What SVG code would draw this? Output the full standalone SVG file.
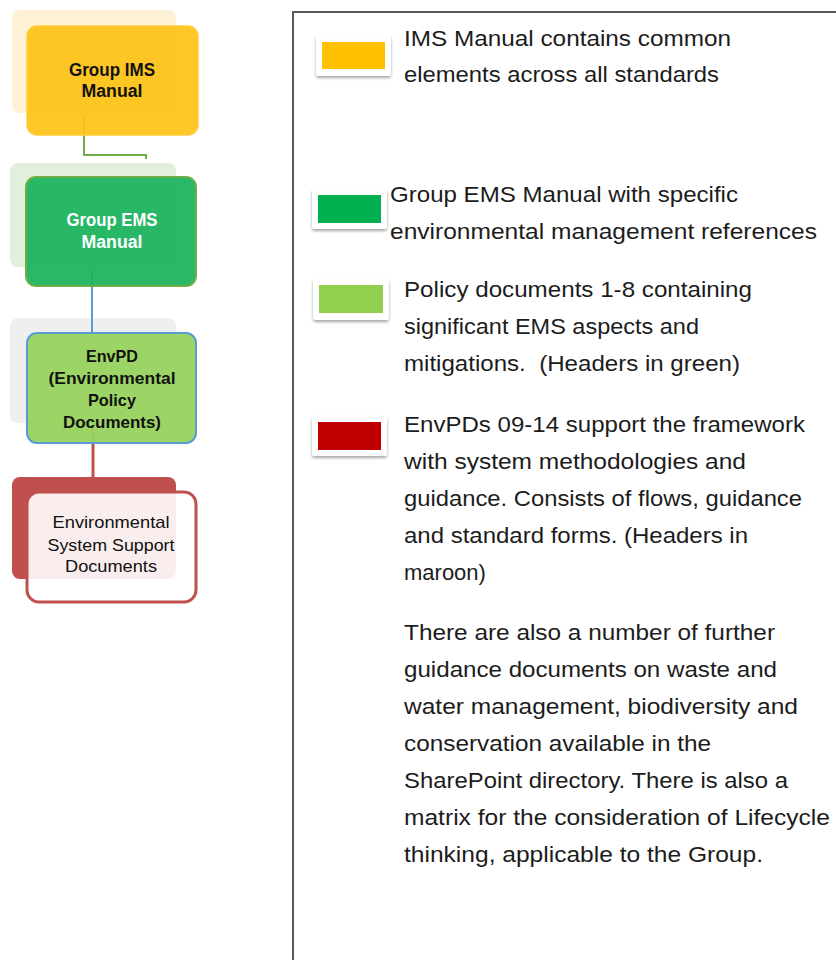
<svg xmlns="http://www.w3.org/2000/svg" width="836" height="960" viewBox="0 0 836 960">
<defs>
<filter id="sh" x="-20%" y="-20%" width="140%" height="160%">
<feDropShadow dx="0" dy="2" stdDeviation="1.5" flood-color="#000" flood-opacity="0.35"/>
</filter>
<style>
.lbl{font-family:"Liberation Sans",Arial,sans-serif;font-size:17px;text-anchor:middle;fill:#111}
.s{font-weight:600;font-size:17.5px}
.b{font-weight:bold;font-size:16.5px}
.leg{font-family:"Liberation Sans",Arial,sans-serif;font-size:22px;fill:#1c1c1c}
.bg{stroke:none}
.conn{fill:none}
.sw{fill:#fff;filter:url(#sh)}
</style>
</defs>
<rect width="836" height="960" fill="#fff"/>

<g id="backgrounds">
<rect class="bg" x="12" y="10" width="164" height="103" rx="8" fill="#FEF1D6"/>
<rect class="bg" x="10" y="163" width="166" height="104" rx="8" fill="#E2EFDA"/>
<rect class="bg" x="10" y="318" width="166" height="105" rx="8" fill="#EFEFEF"/>
<rect class="bg" x="12" y="477" width="164" height="102" rx="8" fill="#C0504D"/>
</g>

<g id="connectors">
<path class="conn" d="M84 117 V155 H146 V159" stroke="#70AD47" stroke-width="2"/>
<path class="conn" d="M92 270 V334" stroke="#5B9BD5" stroke-width="2"/>
<path class="conn" d="M93 427 V477" stroke="#C0504D" stroke-width="3"/>
</g>

<g id="node-ims">
<rect x="27" y="26" width="171" height="109" rx="10" fill="#FEC318" fill-opacity="0.93" stroke="#FFCB38" stroke-width="1.5"/>
<text class="lbl s" x="112" y="76" textLength="86" lengthAdjust="spacingAndGlyphs">Group IMS</text>
<text class="lbl s" x="112" y="97" textLength="61" lengthAdjust="spacingAndGlyphs">Manual</text>
</g>

<g id="node-ems">
<rect x="26" y="177" width="170" height="109" rx="10" fill="#1AB35C" fill-opacity="0.93" stroke="#6DAF45" stroke-width="2"/>
<text class="lbl s" x="112" y="226" textLength="91" lengthAdjust="spacingAndGlyphs" style="fill:#fff">Group EMS</text>
<text class="lbl s" x="112" y="248" textLength="61" lengthAdjust="spacingAndGlyphs" style="fill:#fff">Manual</text>
</g>

<g id="node-envpd">
<rect x="27" y="333" width="169" height="110" rx="10" fill="#97D35D" fill-opacity="0.95" stroke="#5B9BD5" stroke-width="2"/>
<text class="lbl b" x="112" y="362" textLength="52" lengthAdjust="spacingAndGlyphs">EnvPD</text>
<text class="lbl b" x="112" y="384" textLength="127" lengthAdjust="spacingAndGlyphs">(Environmental</text>
<text class="lbl b" x="112" y="406" textLength="48" lengthAdjust="spacingAndGlyphs">Policy</text>
<text class="lbl b" x="112" y="428" textLength="98" lengthAdjust="spacingAndGlyphs">Documents)</text>
</g>

<g id="node-support">
<rect x="27" y="492" width="169" height="110" rx="12" fill="#fff" fill-opacity="0.9" stroke="#C0504D" stroke-width="3"/>
<text class="lbl" x="111" y="528" textLength="117" lengthAdjust="spacingAndGlyphs">Environmental</text>
<text class="lbl" x="111" y="551" textLength="127" lengthAdjust="spacingAndGlyphs">System Support</text>
<text class="lbl" x="111" y="572" textLength="92" lengthAdjust="spacingAndGlyphs">Documents</text>
</g>

<g id="legend-frame">
<path d="M293 960 V12 H836" fill="none" stroke="#595959" stroke-width="2"/>
</g>

<g id="legend-ims">
<rect class="sw" x="316" y="35" width="75" height="41" rx="3"/>
<rect x="322" y="42" width="63" height="27" fill="#FFC000"/>
<text class="leg" x="404" y="46" textLength="327" lengthAdjust="spacingAndGlyphs">IMS Manual contains common</text>
<text class="leg" x="404" y="82" textLength="315" lengthAdjust="spacingAndGlyphs">elements across all standards</text>
</g>

<g id="legend-ems">
<rect class="sw" x="312" y="189" width="75" height="40" rx="3"/>
<rect x="318" y="195" width="63" height="28" fill="#00B050"/>
<text class="leg" x="390" y="202" textLength="348" lengthAdjust="spacingAndGlyphs">Group EMS Manual with specific</text>
<text class="leg" x="390" y="239" textLength="427" lengthAdjust="spacingAndGlyphs">environmental management references</text>
</g>

<g id="legend-policy">
<rect class="sw" x="313" y="279" width="76" height="41" rx="3"/>
<rect x="319" y="285" width="64" height="28" fill="#92D050"/>
<text class="leg" x="404" y="297" textLength="348" lengthAdjust="spacingAndGlyphs">Policy documents 1-8 containing</text>
<text class="leg" x="404" y="334" textLength="295" lengthAdjust="spacingAndGlyphs">significant EMS aspects and</text>
<text class="leg" x="404" y="371" textLength="336" lengthAdjust="spacingAndGlyphs" xml:space="preserve">mitigations.  (Headers in green)</text>
</g>

<g id="legend-support">
<rect class="sw" x="312" y="416" width="75" height="40" rx="3"/>
<rect x="318" y="422" width="63" height="28" fill="#C00000"/>
<text class="leg" x="404" y="432" textLength="401" lengthAdjust="spacingAndGlyphs">EnvPDs 09-14 support the framework</text>
<text class="leg" x="404" y="469" textLength="342" lengthAdjust="spacingAndGlyphs">with system methodologies and</text>
<text class="leg" x="404" y="506" textLength="398" lengthAdjust="spacingAndGlyphs">guidance. Consists of flows, guidance</text>
<text class="leg" x="404" y="543" textLength="344" lengthAdjust="spacingAndGlyphs">and standard forms. (Headers in</text>
<text class="leg" x="404" y="580">maroon)</text>
</g>

<g id="legend-further">
<text class="leg" x="404" y="640" textLength="371" lengthAdjust="spacingAndGlyphs">There are also a number of further</text>
<text class="leg" x="404" y="677" textLength="373" lengthAdjust="spacingAndGlyphs">guidance documents on waste and</text>
<text class="leg" x="404" y="714" textLength="394" lengthAdjust="spacingAndGlyphs">water management, biodiversity and</text>
<text class="leg" x="404" y="751" textLength="307" lengthAdjust="spacingAndGlyphs">conservation available in the</text>
<text class="leg" x="404" y="788" textLength="384" lengthAdjust="spacingAndGlyphs">SharePoint directory. There is also a</text>
<text class="leg" x="404" y="825" textLength="426" lengthAdjust="spacingAndGlyphs">matrix for the consideration of Lifecycle</text>
<text class="leg" x="404" y="862" textLength="359" lengthAdjust="spacingAndGlyphs">thinking, applicable to the Group.</text>
</g>
</svg>
